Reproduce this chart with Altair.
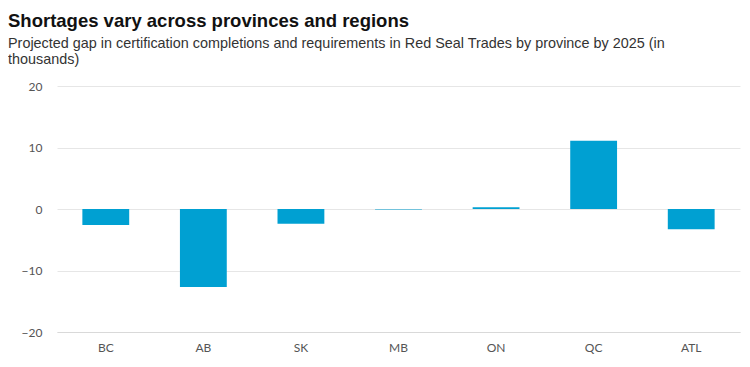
import altair as alt
import pandas as pd

regions = ["BC", "AB", "SK", "MB", "ON", "QC", "ATL"]
gap = [-2.6, -12.7, -2.4, -0.1, 0.3, 11.1, -3.3]
y_ticks = [-20, -10, 0, 10, 20]

df = pd.DataFrame({"region": regions, "gap": gap})

chart = alt.Chart(df).mark_bar(color="#00a0d2").encode(
    x=alt.X("region:N", sort=regions, title=None,
            scale=alt.Scale(paddingInner=0.52, paddingOuter=0.26),
            axis=alt.Axis(labelAngle=0, labelFont="Lato", labelFontSize=12,
                          labelColor="#555555", ticks=False, domain=True,
                          domainColor="#d9d9d9", labelPadding=10, grid=False)),
    y=alt.Y("gap:Q", title=None,
            scale=alt.Scale(domain=[-20, 20], nice=False),
            axis=alt.Axis(values=y_ticks, labelFont="Lato", labelFontSize=12,
                          labelColor="#555555", ticks=False, domain=False,
                          gridColor="#e6e6e6", labelPadding=15)),
).properties(
    width=683,
    height=246,
    padding={"left": 49, "top": 78, "right": 2, "bottom": 25},
    autosize=alt.AutoSizeParams(type="none"),
    title=alt.TitleParams(
        "Shortages vary across provinces and regions",
        subtitle=["Projected gap in certification completions and requirements in Red Seal Trades by province by 2025 (in",
                  "thousands)"],
        anchor="start", frame="group", dx=-49,
        font="Liberation Sans", fontSize=18.5, fontWeight="bold", color="#111111",
        subtitleFont="Liberation Sans", subtitleFontSize=14.4, subtitleColor="#333333",
        subtitleLineHeight=16, subtitlePadding=6, offset=14,
    ),
).configure_view(stroke=None)

chart.save("out.html", embed_options={"renderer": "svg", "actions": False})
